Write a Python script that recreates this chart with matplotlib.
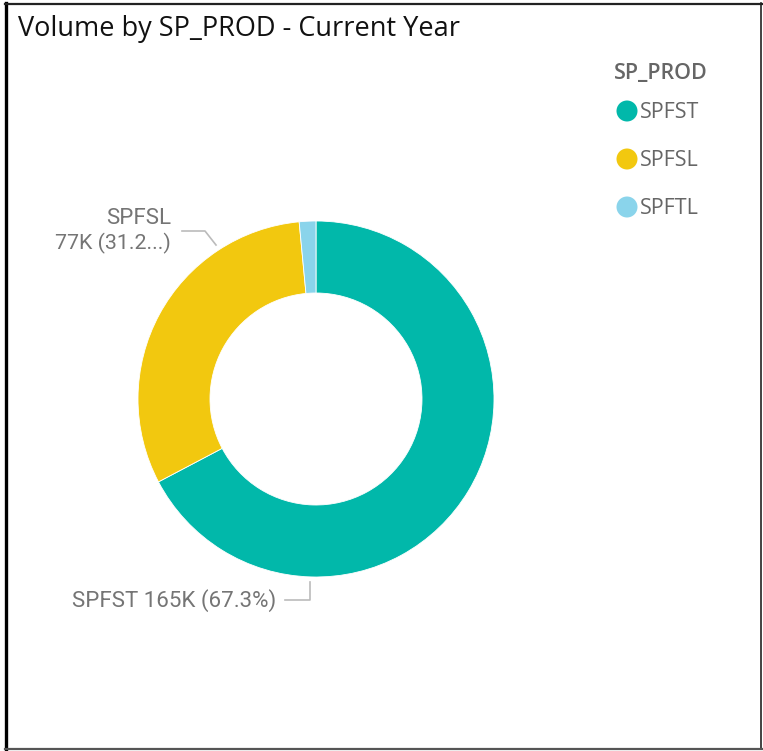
import matplotlib
matplotlib.use("Agg")
import matplotlib.pyplot as plt
from matplotlib.patches import Circle
from matplotlib.lines import Line2D

# ---- data ----
categories = ["SPFST", "SPFSL", "SPFTL"]
values_k = [165.0, 76.5, 3.7]
colors = ["#01B8AA", "#F2C80F", "#8AD4EB"]
title = "Volume by SP_PROD - Current Year"
legend_title = "SP_PROD"
label_spfsl = ["SPFSL", "77K (31.2...)"]
label_spfst = "SPFST 165K (67.3%)"

W, H = 763, 751
fig = plt.figure(figsize=(W / 100, H / 100), dpi=100)
ax = fig.add_axes([0, 0, 1, 1])

def Y(y):
    return H - y

# donut
cx, cy, R = 316, 399, 178
ax.pie(values_k, colors=colors, startangle=90, counterclock=False,
       center=(cx, Y(cy)), radius=R, frame=True,
       wedgeprops=dict(width=R - 106, edgecolor="white", linewidth=0.6))
ax.set_xlim(0, W)
ax.set_ylim(0, H)
ax.set_aspect("equal")
ax.axis("off")

# border
ax.add_line(Line2D([5.5, 5.5], [Y(3), Y(749)], color="black", lw=2.4))
ax.add_line(Line2D([4.5, 761.5], [Y(3.5), Y(3.5)], color="#222222", lw=1.6))
ax.add_line(Line2D([761.3, 761.3], [Y(3), Y(749)], color="#222222", lw=1.2))
ax.add_line(Line2D([4.5, 761.5], [Y(748.5), Y(748.5)], color="#555555", lw=1.6))

# title
ax.text(18, Y(29), title, fontsize=19.5, family="Open Sans", color="#111111",
        ha="left", va="center")

# legend
gray = "#666666"
ax.text(614, Y(73), legend_title, fontsize=15.5, family="Open Sans",
        fontweight="semibold", color=gray, ha="left", va="center")
leg_y = [111, 159, 207]
for cat, col, ly in zip(categories, colors, leg_y):
    ax.add_patch(Circle((627, Y(ly)), 10.5, color=col, lw=0))
    ax.text(640, Y(ly + 2), cat, fontsize=15.5, family="Open Sans", color=gray,
            ha="left", va="center")

# data labels
lab_col = "#757575"
line_col = "#BBBBBB"
fs_lab = 16
ax.text(171, Y(218), label_spfsl[0], fontsize=fs_lab, family="Roboto",
        color=lab_col, ha="right", va="center")
ax.text(171, Y(243), label_spfsl[1], fontsize=15.4, family="Roboto",
        color=lab_col, ha="right", va="center")
ax.add_line(Line2D([182, 205, 216], [Y(231), Y(231), Y(245)], color=line_col, lw=1.2))

ax.text(276, Y(601), label_spfst, fontsize=fs_lab, family="Roboto",
        color=lab_col, ha="right", va="center")
ax.add_line(Line2D([285, 310, 310], [Y(600), Y(600), Y(582)], color=line_col, lw=1.2))

fig.savefig("out.png", dpi=100, facecolor="white")
